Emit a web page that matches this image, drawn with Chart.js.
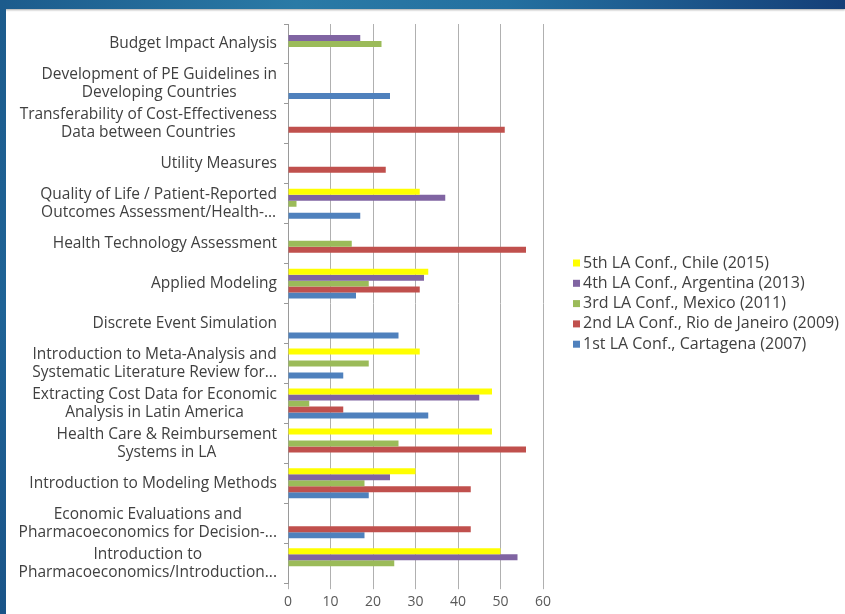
<!DOCTYPE html>
<html>
<head>
<meta charset="utf-8">
<script src="https://cdn.jsdelivr.net/npm/chart.js@4.4.1/dist/chart.umd.min.js"></script>
<style>
  html, body { margin: 0; padding: 0; background: #fff; }
  body { width: 845px; height: 614px; position: relative; overflow: hidden; }
  .bandeau-haut {
    position: absolute; left: 0; top: 0; width: 845px; height: 9px;
    background: linear-gradient(to right, #1c5b8c 0%, #2a7aa6 35%, #2470a0 60%, #153f78 100%);
    box-shadow: 0 1px 2px rgba(0,0,0,0.35);
  }
  .bandeau-gauche {
    position: absolute; left: 0; top: 0; width: 6px; height: 614px;
    background: linear-gradient(to bottom, #1c5b8c, #1f6396 50%, #1a5488);
  }
  #cadre { position: absolute; left: 6px; top: 9px; width: 839px; height: 605px; }
</style>
</head>
<body>
<div class="bandeau-haut"></div>
<div class="bandeau-gauche"></div>
<div id="cadre"><canvas id="graphique"></canvas></div>
<script>
// Catégories (de haut en bas)
const categories = [
  ["Budget Impact Analysis"],
  ["Development of PE Guidelines in", "Developing Countries"],
  ["Transferability of Cost-Effectiveness", "Data between Countries"],
  ["Utility Measures"],
  ["Quality of Life / Patient-Reported", "Outcomes Assessment/Health-..."],
  ["Health Technology Assessment"],
  ["Applied Modeling"],
  ["Discrete Event Simulation"],
  ["Introduction to Meta-Analysis and", "Systematic Literature Review for..."],
  ["Extracting Cost Data for Economic", "Analysis in Latin America"],
  ["Health Care & Reimbursement", "Systems in LA"],
  ["Introduction to Modeling Methods"],
  ["Economic Evaluations and", "Pharmacoeconomics for Decision-..."],
  ["Introduction to", "Pharmacoeconomics/Introduction..."]
];

const conf5 = [0, 0, 0, 0, 31, 0, 33, 0, 31, 48, 48, 30, 0, 50];
const conf4 = [17, 0, 0, 0, 37, 0, 32, 0, 0, 45, 0, 24, 0, 54];
const conf3 = [22, 0, 0, 0, 2, 15, 19, 0, 19, 5, 26, 18, 0, 25];
const conf2 = [0, 0, 51, 23, 0, 56, 31, 0, 0, 13, 56, 43, 43, 0];
const conf1 = [0, 24, 0, 0, 17, 0, 16, 26, 13, 33, 0, 19, 18, 0];

const nomsSeries = [
  "5th LA Conf., Chile (2015)",
  "4th LA Conf., Argentina (2013)",
  "3rd LA Conf., Mexico (2011)",
  "2nd LA Conf., Rio de Janeiro (2009)",
  "1st LA Conf., Cartagena (2007)"
];
const couleurs = ["#FFFF00", "#8064A2", "#9BBB59", "#C0504D", "#4F81BD"];

const ticksX = [0, 10, 20, 30, 40, 50, 60];

// Étiquettes de l'axe Y : bloc aligné à droite, lignes centrées
const etiquettesY = {
  id: "etiquettesY",
  afterDraw(chart) {
    const ctx = chart.ctx;
    const echelle = chart.scales.y;
    const droite = chart.chartArea.left - 11;
    ctx.save();
    ctx.font = '15.5px "Open Sans"';
    ctx.fillStyle = "#404040";
    ctx.textAlign = "center";
    ctx.textBaseline = "middle";
    categories.forEach((lignes, i) => {
      const y = echelle.getPixelForValue(i);
      const largeur = Math.max(...lignes.map(l => ctx.measureText(l).width));
      const cx = droite - largeur / 2;
      const hauteur = 18;
      const debut = y - (lignes.length - 1) * hauteur / 2;
      lignes.forEach((l, k) => ctx.fillText(l, cx, debut + k * hauteur));
    });
    ctx.restore();
  }
};

// Légende à droite, dessinée à partir des datasets
const legende = {
  id: "legende",
  afterDraw(chart) {
    const ctx = chart.ctx;
    const zone = chart.chartArea;
    const xCarre = zone.right + 30;
    const pas = 20.3;
    const n = chart.data.datasets.length;
    const milieu = (zone.top + zone.bottom) / 2;
    ctx.save();
    ctx.font = '16px "Open Sans"';
    ctx.textAlign = "left";
    ctx.textBaseline = "middle";
    chart.data.datasets.forEach((ds, i) => {
      const y = milieu + (i - (n - 1) / 2) * pas;
      ctx.fillStyle = ds.backgroundColor;
      ctx.fillRect(xCarre, y - 3.5, 7, 7);
      ctx.fillStyle = "#404040";
      ctx.fillText(ds.label, xCarre + 10, y);
    });
    ctx.restore();
  }
};

const donnees = [conf5, conf4, conf3, conf2, conf1];

new Chart(document.querySelector("#graphique"), {
  type: "bar",
  data: {
    labels: categories,
    datasets: donnees.map((d, i) => ({
      label: nomsSeries[i],
      data: d,
      backgroundColor: couleurs[i],
      borderWidth: 0,
      barPercentage: 1.0,
      categoryPercentage: 0.75
    }))
  },
  options: {
    indexAxis: "y",
    responsive: true,
    maintainAspectRatio: false,
    animation: false,
    layout: { padding: { top: 15, right: 302, bottom: 0, left: 0 } },
    plugins: {
      tooltip: { enabled: false },
      legend: { display: false }
    },
    scales: {
      x: {
        min: 0,
        max: 60,
        afterBuildTicks(scale) {
          scale.ticks = ticksX.map(v => ({ value: v }));
        },
        grid: { color: "#b0b0b0", tickLength: 6 },
        border: { display: false },
        ticks: {
          color: "#595959",
          font: { family: "Open Sans", size: 14 },
          padding: 4
        }
      },
      y: {
        grid: { drawOnChartArea: false, drawTicks: true, tickLength: 4, color: "#9a9a9a" },
        border: { display: true, color: "#9a9a9a" },
        ticks: { display: false },
        afterFit(scale) {
          scale.width = 282;
        }
      }
    }
  },
  plugins: [etiquettesY, legende]
});
</script>
</body>
</html>
